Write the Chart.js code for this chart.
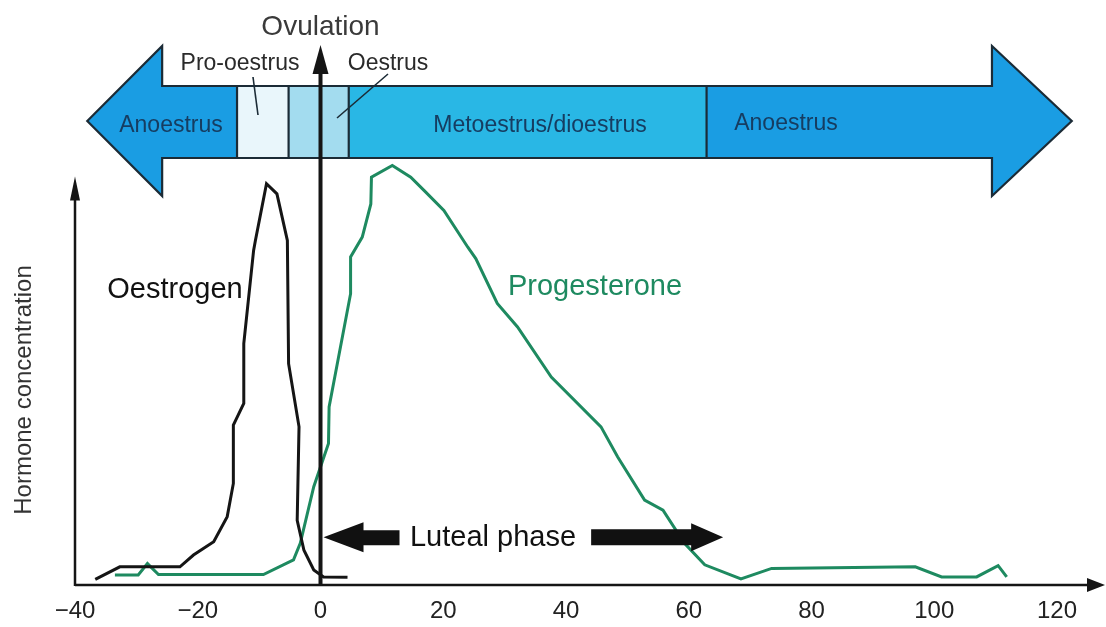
<!DOCTYPE html>
<html><head><meta charset="utf-8">
<script src="https://cdn.jsdelivr.net/npm/chart.js@4.4.0/dist/chart.umd.min.js"></script>
<style>html,body{margin:0;padding:0;background:#fff;}#wrap{width:1106px;height:627px;position:relative;}</style>
</head><body><div id="wrap"><canvas id="c"></canvas></div>
<script>
// ---- data ----
const xTickValues = [-40, -20, 0, 20, 40, 60, 80, 100, 120];
const oestrogenDays   = [-36.7, -32.7, -22.9, -20.7, -17.4, -15.2, -14.2, -14.2, -12.5, -12.5, -10.9, -10.6, -8.8, -7.1, -5.4, -5.2, -3.5, -3.8, -2.7, -1.1, 0.5, 4.4];
const oestrogenLevels = [1.4, 4.5, 4.5, 7.4, 10.7, 16.9, 25.1, 39.5, 44.9, 59.7, 82.7, 85.2, 99.2, 96.7, 85.2, 54.7, 39.1, 16.0, 8.6, 3.7, 2.0, 1.9];
const progesteroneDays   = [-33.5, -29.7, -28.2, -26.4, -9.3, -4.4, -3.3, -1.1, 1.3, 1.4, 4.9, 4.9, 6.8, 8.2, 8.3, 11.7, 14.7, 16.9, 20.1, 24.0, 25.3, 28.8, 32.1, 37.6, 45.7, 48.4, 52.8, 55.8, 59.3, 62.6, 68.5, 73.5, 96.9, 101.2, 106.9, 110.4, 111.8];
const progesteroneLevels = [2.5, 2.5, 5.3, 2.6, 2.6, 6.2, 10.3, 24.3, 35.0, 44.0, 72.0, 81.1, 86.0, 94.2, 100.8, 103.7, 100.8, 97.5, 92.6, 83.5, 80.7, 69.6, 63.8, 51.4, 39.1, 31.7, 21.0, 18.5, 10.3, 5.0, 1.5, 4.1, 4.5, 2.0, 2.0, 4.8, 2.0];
const phaseNames     = ['Anoestrus', 'Pro-oestrus', 'Oestrus', 'Metoestrus/dioestrus', 'Anoestrus'];
const phaseStartDays = [-38, -13.6, -5.2, 4.6, 62.9];
const phaseEndDays   = [-13.6, -5.2, 4.6, 62.9, 122.4];
const ovulationDay = 0;
const lutealStartDay = 0;
const lutealEndDay = 65.6;

// ---- styles ----
const FONT = '"Liberation Sans", Arial, Helvetica, sans-serif';
const phaseColors = ['#1a9de3', '#e9f6fb', '#a3dcef', '#29b7e5', '#1a9de3'];
const GREEN = '#1e8a60';

function drawArrowPoly(ctx, pts, fill) {
  ctx.beginPath();
  ctx.moveTo(pts[0][0], pts[0][1]);
  for (let i = 1; i < pts.length; i++) ctx.lineTo(pts[i][0], pts[i][1]);
  ctx.closePath();
  ctx.fillStyle = fill; ctx.fill();
}

const decor = {
  id: 'decor',
  afterDatasetsDraw(chart) {
    const ctx = chart.ctx, xs = chart.scales.x, ys = chart.scales.y, ca = chart.chartArea;
    const px = v => xs.getPixelForValue(v);
    ctx.save();
    // ---- axes ----
    ctx.strokeStyle = '#151515'; ctx.lineWidth = 2.5; ctx.lineCap = 'butt';
    ctx.beginPath(); ctx.moveTo(ca.left, ca.bottom); ctx.lineTo(ca.right - 10, ca.bottom); ctx.stroke();
    drawArrowPoly(ctx, [[ca.right + 5, ca.bottom], [ca.right - 13, ca.bottom - 7], [ca.right - 13, ca.bottom + 7]], '#151515');
    const yTop = ys.getPixelForValue(100);
    ctx.beginPath(); ctx.moveTo(ca.left, ca.bottom + 1); ctx.lineTo(ca.left, yTop + 15); ctx.stroke();
    drawArrowPoly(ctx, [[ca.left, yTop - 4], [ca.left - 5, yTop + 20], [ca.left + 5, yTop + 20]], '#151515');

    // ---- phase banner ----
    const bTop = 86, bBot = 158, hTop = 46, hBot = 196, mid = 121;
    const xl = px(phaseStartDays[0]), xhl = px(-25.8), xhr = px(109.4), xr = px(phaseEndDays[phaseEndDays.length - 1]);
    const outline = [[xl, mid], [xhl, hTop], [xhl, bTop], [xhr, bTop], [xhr, hTop], [xr, mid], [xhr, hBot], [xhr, bBot], [xhl, bBot], [xhl, hBot]];
    ctx.save();
    ctx.beginPath();
    ctx.moveTo(outline[0][0], outline[0][1]);
    outline.slice(1).forEach(p => ctx.lineTo(p[0], p[1]));
    ctx.closePath();
    ctx.clip();
    for (let i = 0; i < phaseNames.length; i++) {
      const a = px(phaseStartDays[i]) - (i === 0 ? 5 : 0), b = px(phaseEndDays[i]) + (i === phaseNames.length - 1 ? 5 : 0);
      ctx.fillStyle = phaseColors[i];
      ctx.fillRect(a, hTop - 2, b - a, hBot - hTop + 4);
    }
    ctx.restore();
    ctx.strokeStyle = '#1b2b36'; ctx.lineWidth = 2.2; ctx.lineJoin = 'miter';
    ctx.beginPath();
    ctx.moveTo(outline[0][0], outline[0][1]);
    outline.slice(1).forEach(p => ctx.lineTo(p[0], p[1]));
    ctx.closePath(); ctx.stroke();
    for (let i = 1; i < phaseNames.length; i++) {
      const x = px(phaseStartDays[i]);
      ctx.beginPath(); ctx.moveTo(x, bTop); ctx.lineTo(x, bBot); ctx.stroke();
    }
    // banner labels
    ctx.fillStyle = '#163d61'; ctx.textAlign = 'center'; ctx.textBaseline = 'alphabetic';
    ctx.font = '23px ' + FONT;
    ctx.fillText(phaseNames[0], 171, 132);
    ctx.fillText(phaseNames[3], 540, 132);
    ctx.fillText(phaseNames[4], 786, 130);
    // labels above banner
    ctx.fillStyle = '#2a2a2a';
    ctx.font = '23px ' + FONT;
    ctx.fillText(phaseNames[1], 240, 70);
    ctx.fillText(phaseNames[2], 388, 70);
    ctx.strokeStyle = '#1b2b36'; ctx.lineWidth = 1.6;
    ctx.beginPath(); ctx.moveTo(253, 77); ctx.lineTo(258, 115); ctx.stroke();
    ctx.beginPath(); ctx.moveTo(388, 74); ctx.lineTo(337, 118); ctx.stroke();

    // ---- ovulation arrow ----
    const xo = px(ovulationDay);
    ctx.strokeStyle = '#151515'; ctx.lineWidth = 4;
    ctx.beginPath(); ctx.moveTo(xo, ca.bottom + 1); ctx.lineTo(xo, 70); ctx.stroke();
    drawArrowPoly(ctx, [[xo, 45], [xo - 8, 74], [xo + 8, 74]], '#151515');
    ctx.fillStyle = '#3a3a3a'; ctx.font = '28px ' + FONT;
    ctx.fillText('Ovulation', xo, 35);

    // ---- luteal phase ----
    const yl = ys.getPixelForValue(11.8);
    const xls = px(lutealStartDay) + 3, xle = px(lutealEndDay);
    ctx.fillStyle = '#111';
    drawArrowPoly(ctx, [[xls, yl], [xls + 40, yl - 15], [xls + 40, yl - 7], [xls + 76, yl - 7], [xls + 76, yl + 8], [xls + 40, yl + 8], [xls + 40, yl + 15]], '#111');
    drawArrowPoly(ctx, [[xle, yl], [xle - 32, yl - 14], [xle - 32, yl - 8], [xle - 132, yl - 8], [xle - 132, yl + 8], [xle - 32, yl + 8], [xle - 32, yl + 14]], '#111');
    ctx.font = '29px ' + FONT; ctx.fillStyle = '#111';
    ctx.textBaseline = 'middle';
    ctx.fillText('Luteal phase', 493, yl + 1);

    // ---- series labels ----
    ctx.textBaseline = 'alphabetic';
    ctx.font = '29px ' + FONT;
    ctx.fillStyle = '#111';
    ctx.fillText('Oestrogen', 175, 298);
    ctx.fillStyle = GREEN;
    ctx.fillText('Progesterone', 595, 295);

    // ---- y title ----
    ctx.save();
    ctx.translate(24, 390); ctx.rotate(-Math.PI / 2);
    ctx.fillStyle = '#333'; ctx.font = '24px ' + FONT; ctx.textBaseline = 'middle';
    ctx.fillText('Hormone concentration', 0, 0);
    ctx.restore();
    ctx.restore();
  }
};

new Chart(document.getElementById('c'), {
  type: 'scatter',
  data: {
    datasets: [
      { label: 'Oestrogen', data: oestrogenDays.map((d, i) => ({ x: d, y: oestrogenLevels[i] })),
        showLine: true, borderColor: '#151515', borderWidth: 3, pointRadius: 0, tension: 0, fill: false },
      { label: 'Progesterone', data: progesteroneDays.map((d, i) => ({ x: d, y: progesteroneLevels[i] })),
        showLine: true, borderColor: GREEN, borderWidth: 3, pointRadius: 0, tension: 0, fill: false }
    ]
  },
  options: {
    responsive: true, maintainAspectRatio: false, animation: false,
    layout: { padding: { left: 75, right: 6, top: 140, bottom: 0 } },
    plugins: { legend: { display: false }, tooltip: { enabled: false } },
    scales: {
      x: {
        type: 'linear', min: -40, max: 127,
        grid: { display: false, drawTicks: false }, border: { display: false },
        afterBuildTicks: s => { s.ticks = xTickValues.map(v => ({ value: v })); },
        afterFit: s => { s.height = 42; },
        ticks: { includeBounds: false, stepSize: 20, padding: 12, color: '#222',
          font: { size: 24, family: FONT },
          callback: v => (v < 0 ? '\u2212' + Math.abs(v) : String(v)) }
      },
      y: { display: false, min: 0, max: 110 }
    }
  },
  plugins: [decor]
});
</script></body></html>
